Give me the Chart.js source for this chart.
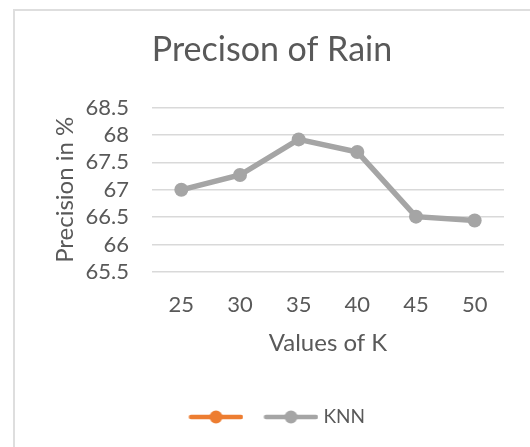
<!DOCTYPE html>
<html>
<head>
<meta charset="utf-8">
<script src="https://cdn.jsdelivr.net/npm/chart.js@4"></script>
<style>
  html, body { margin: 0; padding: 0; background: #ffffff; }
  #wrap { position: relative; width: 530px; height: 447px; overflow: hidden; }
  #frame { position: absolute; left: 13px; top: 9px; right: -10px; bottom: -10px;
           border-left: 2px solid #dedede; border-top: 2px solid #dedede; pointer-events: none; }
  canvas { position: absolute; left: 0; top: 0; }
</style>
</head>
<body>
<div id="wrap">
  <canvas id="chart" width="530" height="447"></canvas>
  <div id="frame"></div>
</div>
<script>
// K values on the x axis and precision (%) for each K
const kValues = ['25', '30', '35', '40', '45', '50'];
const knnPrecision = [67.0, 67.27, 67.92, 67.69, 66.51, 66.44];
const emptySeries = [];

const textColor = '#595959';
const gridColor = '#d9d9d9';
const grayLine = '#a5a5a5';
const orangeLine = '#ed7d31';
const fontFamily = 'Lato';

// Legend swatch: short line with a round marker in the middle,
// drawn inside a wider transparent canvas so it sits to the right of its slot
function legendSwatch(color) {
  const c = document.createElement('canvas');
  c.width = 69; c.height = 16;
  const g = c.getContext('2d');
  const x0 = 14;
  g.strokeStyle = color;
  g.lineWidth = 4.5;
  g.lineCap = 'round';
  g.beginPath();
  g.moveTo(x0 + 2.5, 8);
  g.lineTo(x0 + 52.5, 8);
  g.stroke();
  g.fillStyle = color;
  g.beginPath();
  g.arc(x0 + 27.5, 8, 6.5, 0, Math.PI * 2);
  g.fill();
  return c;
}

new Chart(document.getElementById('chart'), {
  type: 'line',
  data: {
    labels: kValues,
    datasets: [
      {
        label: '',
        data: emptySeries,
        borderColor: orangeLine,
        backgroundColor: orangeLine
      },
      {
        label: 'KNN',
        data: knnPrecision,
        borderColor: grayLine,
        backgroundColor: grayLine,
        borderWidth: 5.5,
        pointRadius: 7,
        pointHoverRadius: 7,
        pointBackgroundColor: grayLine,
        pointBorderColor: grayLine,
        pointBorderWidth: 0,
        tension: 0,
        pointStyle: 'circle'
      }
    ]
  },
  options: {
    responsive: false,
    animation: false,
    events: [],
    layout: { padding: { left: 40, right: 26, top: 0, bottom: 10.5 } },
    plugins: {
      title: {
        display: true,
        text: 'Precison of Rain',
        color: textColor,
        font: { family: fontFamily, size: 34, weight: 'normal' },
        padding: { top: 30, bottom: 36.8 }
      },
      legend: {
        display: true,
        position: 'bottom',
        labels: {
          usePointStyle: true,
          pointStyleWidth: 60,
          padding: 5.5,
          color: textColor,
          font: { family: fontFamily, size: 19 },
          generateLabels(chart) {
            return chart.data.datasets.map((ds, i) => ({
              text: ds.label,
              fillStyle: ds.backgroundColor,
              strokeStyle: ds.borderColor,
              lineWidth: 0,
              pointStyle: legendSwatch(ds.borderColor),
              fontColor: textColor,
              hidden: false,
              datasetIndex: i
            }));
          }
        }
      },
      tooltip: { enabled: false }
    },
    scales: {
      x: {
        type: 'category',
        offset: true,
        grid: { display: false, drawTicks: false },
        border: { display: false },
        ticks: {
          color: textColor,
          padding: 19.8,
          font: { family: fontFamily, size: 22 }
        },
        title: {
          display: true,
          text: 'Values of K',
          color: textColor,
          font: { family: fontFamily, size: 24 },
          padding: { top: 0, bottom: 44 }
        },
        afterFit(scale) { scale.height = 130; }
      },
      y: {
        min: 65.5,
        max: 68.5,
        ticks: {
          stepSize: 0.5,
          autoSkip: false,
          color: textColor,
          padding: 23,
          font: { family: fontFamily, size: 22 },
          callback: (value) => String(value)
        },
        grid: { color: gridColor, lineWidth: 1.5, drawTicks: false },
        border: { display: false },
        title: {
          display: true,
          text: 'Precision in %',
          color: textColor,
          font: { family: fontFamily, size: 24 },
          padding: { top: 10.6, bottom: 0 }
        },
        afterFit(scale) { scale.width = 112; }
      }
    }
  }
});
</script>
</body>
</html>
